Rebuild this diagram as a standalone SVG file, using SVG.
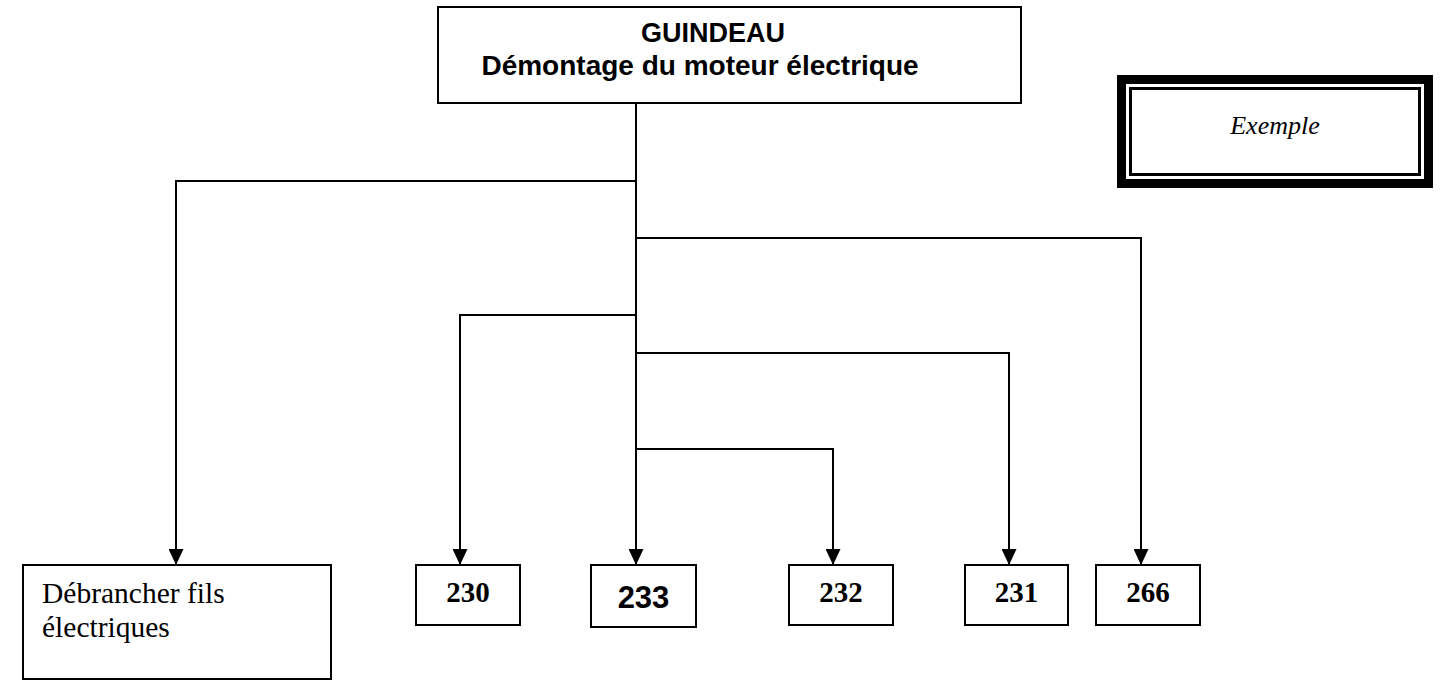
<svg xmlns="http://www.w3.org/2000/svg" width="1443" height="681" viewBox="0 0 1443 681">
<style>
.box{fill:#fff;stroke:#000;stroke-width:2}
.conn{fill:none;stroke:#000;stroke-width:2}
.hdr{font-family:"Liberation Sans",Arial,sans-serif;font-weight:bold;font-size:27px;text-anchor:middle}
.num{font-family:"Liberation Serif","Times New Roman",serif;font-weight:bold;font-size:29px;text-anchor:middle}
.numb{font-family:"Liberation Sans",Arial,sans-serif;font-weight:bold;font-size:31px;text-anchor:middle}
.txt{font-family:"Liberation Serif","Times New Roman",serif;font-size:29.5px}
.ex{font-family:"Liberation Serif","Times New Roman",serif;font-style:italic;font-size:26px;text-anchor:middle}
</style>
<defs>
<marker id="arr" markerUnits="userSpaceOnUse" markerWidth="16" markerHeight="15" refX="16" refY="7.5" orient="auto">
<path d="M0,0 L16,7.5 L0,15 z" fill="#000"/>
</marker>
</defs>
<rect width="1443" height="681" fill="#fff"/>
<g id="connectors">
<path class="conn" d="M636,103 V565" marker-end="url(#arr)"/>
<path class="conn" d="M636,181 H176 V565" marker-end="url(#arr)"/>
<path class="conn" d="M636,238 H1141 V565" marker-end="url(#arr)"/>
<path class="conn" d="M636,315 H460 V565" marker-end="url(#arr)"/>
<path class="conn" d="M636,353 H1009 V565" marker-end="url(#arr)"/>
<path class="conn" d="M636,449 H833 V565" marker-end="url(#arr)"/>
</g>
<g id="root">
<rect class="box" x="438" y="7" width="583" height="96"/>
<text class="hdr" x="713" y="42">GUINDEAU</text>
<text class="hdr" x="700" y="75" style="font-size:28px">Démontage du moteur électrique</text>
</g>
<g id="exemple">
<rect x="1121.5" y="79.5" width="307" height="104" fill="#fff" stroke="#000" stroke-width="9"/>
<rect x="1130.5" y="88.5" width="289" height="86" fill="none" stroke="#000" stroke-width="3"/>
<text class="ex" x="1275" y="134">Exemple</text>
</g>
<g id="debrancher">
<rect class="box" x="23" y="565" width="308" height="114"/>
<text class="txt" x="42" y="603">Débrancher fils</text>
<text class="txt" x="42" y="637">électriques</text>
</g>
<g id="n230">
<rect class="box" x="416" y="565" width="104" height="60"/>
<text class="num" x="468" y="602">230</text>
</g>
<g id="n233">
<rect class="box" x="591" y="565" width="105" height="62"/>
<text class="numb" x="643.5" y="608">233</text>
</g>
<g id="n232">
<rect class="box" x="789" y="565" width="104" height="60"/>
<text class="num" x="841" y="602">232</text>
</g>
<g id="n231">
<rect class="box" x="965" y="565" width="103" height="60"/>
<text class="num" x="1016.5" y="602">231</text>
</g>
<g id="n266">
<rect class="box" x="1096" y="565" width="104" height="60"/>
<text class="num" x="1148" y="602">266</text>
</g>
</svg>
